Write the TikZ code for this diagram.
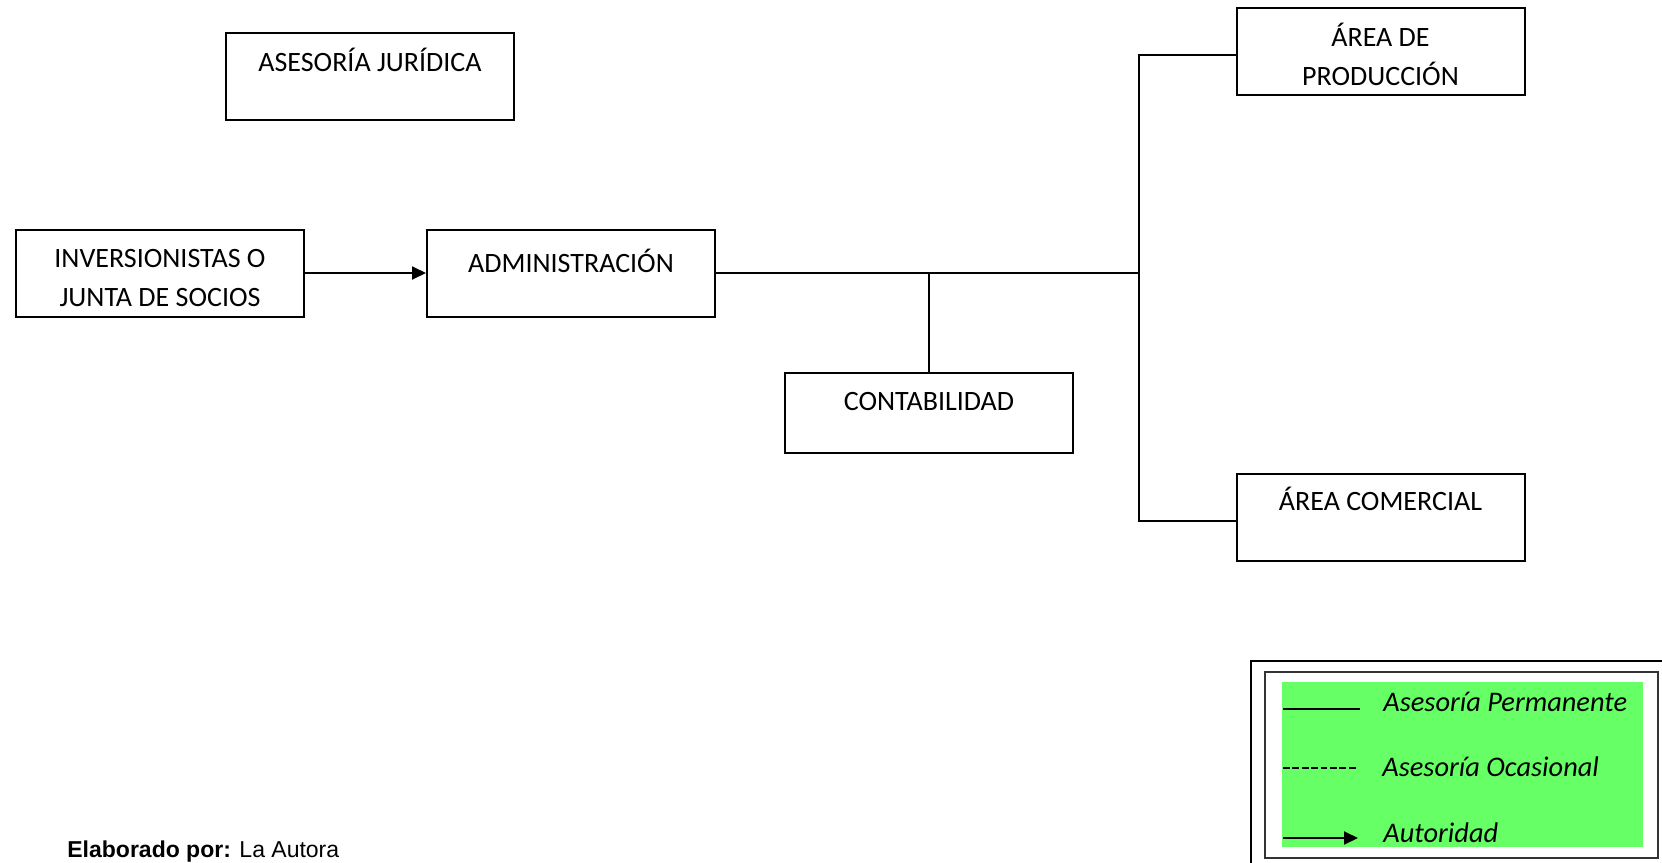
\documentclass[tikz,border=0pt]{standalone}
\usepackage{fontspec}
\setmainfont{Carlito}
\newfontfamily\arialfont{Liberation Sans}
\usepackage{tikz}
\usetikzlibrary{arrows.meta, positioning, calc}
\definecolor{legendgreen}{HTML}{66FF66}
\newcommand{\Lines}[1]{\begin{tabular}[t]{@{}c@{}}#1\end{tabular}}
\tikzset{
    unit/.style={draw, line width=1pt, minimum width=144pt, minimum height=43.5pt,
      inner sep=0pt, font=\fontsize{14}{19.5}\selectfont, text height=10pt, text depth=15.5pt},
    link/.style={line width=1pt},
    authority/.style={line width=1pt, -{Triangle[length=7pt, width=6.5pt]}},
    keytext/.style={anchor=base west, inner sep=0pt, font=\fontsize{14.2}{17}\selectfont\itshape},
}

\begin{document}
\begin{tikzpicture}[x=0.5pt, y=-0.5pt]
    \useasboundingbox (0,0) rectangle (1662,863);
    \tikzset{
      node distance=60.5pt
    }

    \node[unit] (jur) at (370,76.5) {ASESORÍA JURÍDICA};
    \node[unit] (inv) at (160,273) {\Lines{INVERSIONISTAS O\\JUNTA DE SOCIOS}};
    \node[unit, text depth=11pt, right=of inv] (adm) {ADMINISTRACIÓN};
    \node[unit, minimum height=40pt, text depth=12pt, below right=27pt and 34pt of adm] (cont) {CONTABILIDAD};
    \node[unit] (prod) at (1380.5,51.5) {\Lines{ÁREA DE\\PRODUCCIÓN}};
    \node[unit, text depth=17.5pt, below=188.5pt of prod] (com) {ÁREA COMERCIAL};

    \coordinate (hub) at ($(prod.west |- adm.east)+(-97,0)$);

    \draw (inv) edge[authority] (adm);
    \draw[link] (adm.east) -- (hub);
    \draw[link] ([yshift=-1.75pt]prod.west) -| (hub);
    \draw[link] ([yshift=-1.75pt]com.west) -| (hub);
    \draw[link] (cont.north) -- (cont.north |- adm.east);

    \fill[legendgreen] (1282,682) rectangle (1643,847);
    \draw[line width=0.8pt, black!80] (1265,672) rectangle (1658,858);
    \draw[line width=1.1pt] (1251,661) rectangle (1670,870);

    \node[keytext] (perm) at (1383,711) {Asesoría Permanente};
    \node[keytext] (ocas) at (1382,776) {Asesoría Ocasional};
    \node[keytext] (auto) at (1383,842) {Autoridad};

    \coordinate (perm0) at (1283,709);
    \coordinate (perm1) at (1360,709);
    \coordinate (ocas0) at (1283,768);
    \coordinate (ocas1) at (1358,768);
    \coordinate (auto0) at (1283,838);
    \coordinate (auto1) at (1358,838);

    \draw[link] (perm0) -- (perm1);
    \draw[line width=0.7pt, dash pattern=on 3.4pt off 1.3pt] (ocas0) -- (ocas1);
    \draw (auto0) edge[authority] (auto1);

    \node[anchor=base west, inner sep=0pt, font=\arialfont\fontsize{11.5}{13}\selectfont] (firma) at (67,857) {\textbf{Elaborado por:} La Autora};
\end{tikzpicture}
\end{document}
